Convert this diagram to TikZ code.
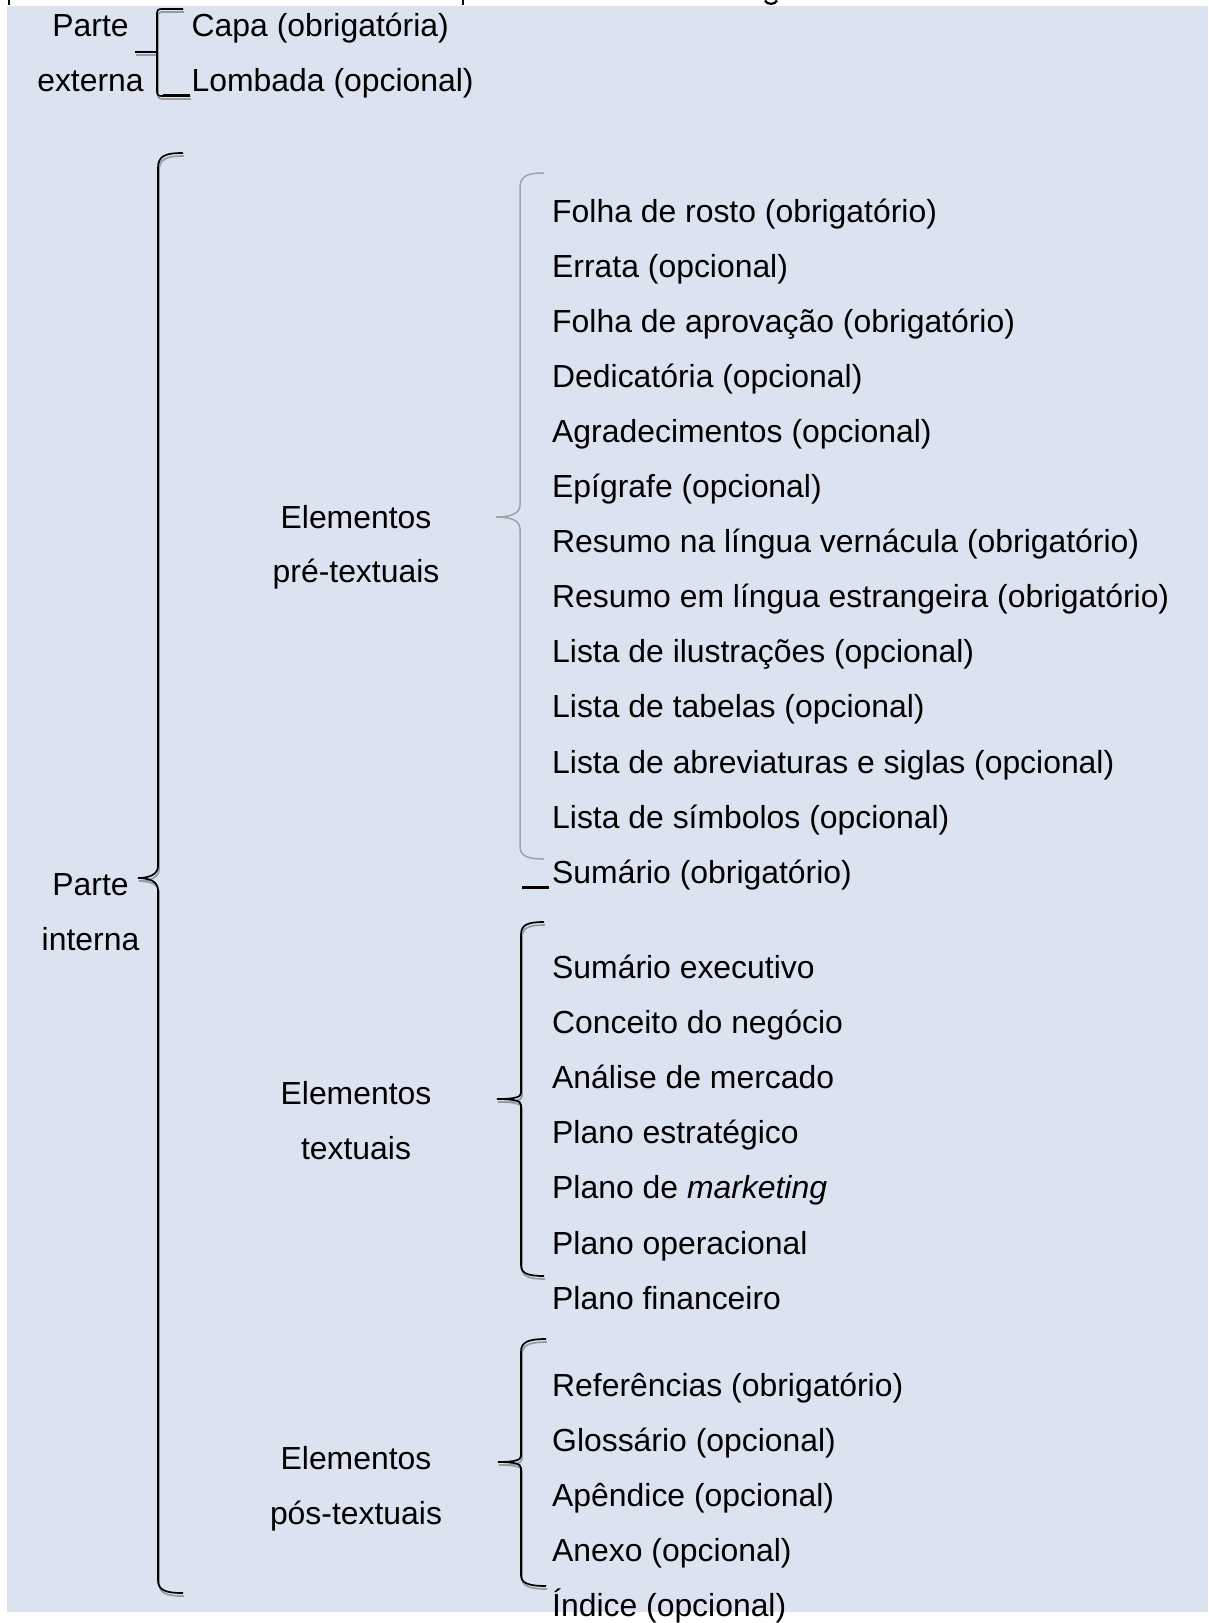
\documentclass[tikz,border=0pt]{standalone}
\usepackage{fontspec}
\setmainfont{Liberation Sans}
\definecolor{bg}{RGB}{219,227,240}
\definecolor{braceg}{RGB}{158,163,170}
\definecolor{shad}{RGB}{150,155,162}
\tikzset{
  txt/.style={inner sep=0pt, font=\fontsize{31.9}{38}\selectfont},
  item/.style={txt, anchor=base west},
  lbl/.style={txt, anchor=base},
  blackbrace/.style={line width=1.7pt, black},
  shadowbrace/.style={line width=1.7pt, shad},
  graybrace/.style={line width=1.5pt, braceg},
  cutmark/.style={line width=2.6pt, black},
}
\begin{document}
\begin{tikzpicture}[x=1pt,y=-1pt]
\useasboundingbox (0,0) rectangle (1208,1623);
\fill[bg] (7,6) rectangle (1208,1612);

% remnants of cut-off text above the panel
\draw[cutmark] (9,0) -- (9,5);
\draw[cutmark] (463,0) -- (463,5);
\draw[line width=2.2pt] (765,0.5) .. controls (767,5) and (775,5) .. (777,0.5);

% ---------- Parte externa ----------
\node[lbl] (pe1) at (90.5,36.5) {Parte};
\node[lbl] (pe2) at (90.5,91.5) {externa};
\node[item] (capa) at (191.5,36.5) {Capa (obrigatória)};
\node[item] (lomb) at (191.5,91.5) {Lombada (opcional)};
\begin{scope}[shift={(1,3)}]
  \draw[shadowbrace] (183,9) -- (162,9) .. controls (158,9) and (157,10) .. (157,14) -- (157,91) .. controls (157,95) and (158,96) .. (162,96) -- (190,96);
  \draw[shadowbrace] (135,52) -- (157,52);
\end{scope}
\draw[blackbrace] (183,9) -- (162,9) .. controls (158,9) and (157,10) .. (157,14) -- (157,91) .. controls (157,95) and (158,96) .. (162,96) -- (190,96);
\draw[line width=2.6pt] (163,95.5) -- (190,95.5);
\draw[blackbrace] (135,52) -- (157,52);

% ---------- Parte interna ----------
\node[lbl] (pi1) at (90.5,895) {Parte};
\node[lbl] (pi2) at (90.5,950.5) {interna};
\begin{scope}[shift={(1,3)}]
  \draw[shadowbrace] (183,153) .. controls (165,153) and (158,156) .. (158,168) -- (158,866) .. controls (158,874) and (150,878) .. (138,878) .. controls (150,878) and (158,882) .. (158,890) -- (158,1580) .. controls (158,1590) and (165,1593) .. (183,1593);
\end{scope}
\draw[blackbrace] (183,153) .. controls (165,153) and (158,156) .. (158,168) -- (158,866) .. controls (158,874) and (150,878) .. (138,878) .. controls (150,878) and (158,882) .. (158,890) -- (158,1580) .. controls (158,1590) and (165,1593) .. (183,1593);

% ---------- Elementos pre-textuais ----------
\node[lbl] (pre1) at (356,528.5) {Elementos};
\node[lbl] (pre2) at (356,582.5) {pré-textuais};
\foreach \t [count=\i] in {Folha de rosto (obrigatório), Errata (opcional), Folha de aprovação (obrigatório), Dedicatória (opcional), Agradecimentos (opcional), Epígrafe (opcional), Resumo na língua vernácula (obrigatório), Resumo em língua estrangeira (obrigatório), Lista de ilustrações (opcional), Lista de tabelas (opcional), Lista de abreviaturas e siglas (opcional), Lista de símbolos (opcional), Sumário (obrigatório)}
  \node[item] (prei\i) at (552,{222+(\i-1)*55.1}) {\t};
\draw[graybrace] (544,173) .. controls (527,173) and (520,176) .. (520,188) -- (520,505) .. controls (520,513) and (512,517) .. (496,517) .. controls (512,517) and (520,521) .. (520,529) -- (520,846) .. controls (520,856) and (527,859) .. (544,859);
\draw[line width=3pt] (522,887) -- (549,887);

% ---------- Elementos textuais ----------
\node[lbl] (tx1) at (356,1104.5) {Elementos};
\node[lbl] (tx2) at (356,1159.5) {textuais};
\foreach \t [count=\i] in {Sumário executivo, Conceito do negócio, Análise de mercado, Plano estratégico, {Plano de \textit{marketing}}, Plano operacional, Plano financeiro}
  \node[item] (txi\i) at (552,{978.5+(\i-1)*55.1}) {\t};
\begin{scope}[shift={(1,3)}]
  \draw[shadowbrace] (544,922) .. controls (527,922) and (521,925) .. (521,935) -- (521,1093) .. controls (521,1097) and (515,1099) .. (497,1099) .. controls (515,1099) and (521,1101) .. (521,1105) -- (521,1265) .. controls (521,1273) and (527,1276) .. (544,1276);
\end{scope}
\draw[blackbrace] (544,922) .. controls (527,922) and (521,925) .. (521,935) -- (521,1093) .. controls (521,1097) and (515,1099) .. (497,1099) .. controls (515,1099) and (521,1101) .. (521,1105) -- (521,1265) .. controls (521,1273) and (527,1276) .. (544,1276);

% ---------- Elementos pos-textuais ----------
\node[lbl] (po1) at (356,1469.5) {Elementos};
\node[lbl] (po2) at (356,1524.5) {pós-textuais};
\foreach \t [count=\i] in {Referências (obrigatório), Glossário (opcional), Apêndice (opcional), Anexo (opcional), Índice (opcional)}
  \node[item] (poi\i) at (552,{1396.5+(\i-1)*55.1}) {\t};
\begin{scope}[shift={(1,3)}]
  \draw[shadowbrace] (546,1339) .. controls (528,1339) and (521,1342) .. (521,1352) -- (521,1456) .. controls (521,1460) and (515,1462) .. (498,1462) .. controls (515,1462) and (521,1464) .. (521,1468) -- (521,1575) .. controls (521,1583) and (528,1586) .. (546,1586);
\end{scope}
\draw[blackbrace] (546,1339) .. controls (528,1339) and (521,1342) .. (521,1352) -- (521,1456) .. controls (521,1460) and (515,1462) .. (498,1462) .. controls (515,1462) and (521,1464) .. (521,1468) -- (521,1575) .. controls (521,1583) and (528,1586) .. (546,1586);
\end{tikzpicture}
\end{document}
